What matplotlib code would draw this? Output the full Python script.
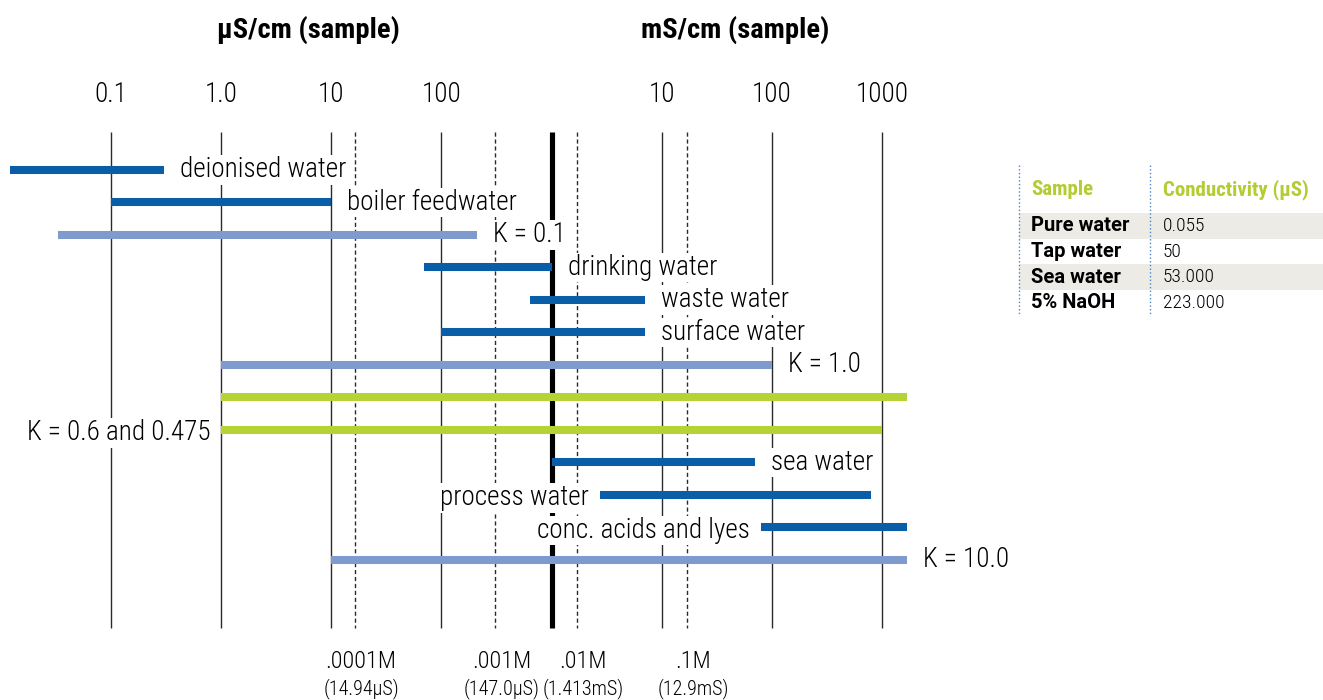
import matplotlib
matplotlib.use('Agg')
import matplotlib.pyplot as plt
from matplotlib.patches import Rectangle

plt.rcParams['font.family'] = ['Roboto Condensed', 'Fira Sans Condensed', 'DejaVu Sans']

# measuring ranges, all in uS/cm
range_labels = ['deionised water', 'boiler feedwater', 'K = 0.1', 'drinking water',
                'waste water', 'surface water', 'K = 1.0', '', 'K = 0.6 and 0.475',
                'sea water', 'process water', 'conc. acids and lyes', 'K = 10.0']
range_lo = [0.012, 0.1, 0.033, 70, 640, 100, 1, 1, 1, 1000, 2750, 8e4, 10]
range_hi = [0.3, 10, 210, 1000, 7000, 7000, 1e5, 1.7e6, 1e6, 7e4, 8e5, 1.7e6, 1.7e6]
range_kind = ['sample', 'sample', 'cell', 'sample', 'sample', 'sample', 'cell',
              'cell2', 'cell2', 'sample', 'sample', 'sample', 'cell']
label_side = ['right', 'right', 'right', 'right', 'right', 'right', 'right',
              'right', 'left', 'right', 'left', 'left', 'right']

tick_values = [0.1, 1, 10, 100, 1e4, 1e5, 1e6]
tick_labels = ['0.1', '1.0', '10', '100', '10', '100', '1000']
unit_split = 1000  # 1 mS/cm

molar_pos = [16.4, 309, 1.7e3, 1.7e4]
molar_labels = ['.0001M', '.001M', '.01M', '.1M']
molar_cond = ['(14.94µS)', '(147.0µS)', '(1.413mS)', '(12.9mS)']

table_samples = ['Pure water', 'Tap water', 'Sea water', '5% NaOH']
table_values = ['0.055', '50', '53.000', '223.000']

colors = {'sample': '#0a5ea8', 'cell': '#7f9bcd', 'cell2': '#b5d334'}
W, H = 1323, 700
LIGHT = 300
FS = 19.5


def fx(px):
    return px / W


def fy(py):
    return 1 - py / H


fig = plt.figure(figsize=(W / 100, H / 100), dpi=100)
ax = fig.add_axes([0, 0, 1, 1])
ax.set_xscale('log')
ax.set_xlim(10 ** -2.008, 10 ** 10.004)
ax.set_ylim(16.31, -5.23)
ax.axis('off')

# vertical reference lines (under the bars)
y_top, y_bot = -1.17, 14.09
ax.vlines(tick_values, y_top, y_bot, color='#2a2a2a', lw=1.0, zorder=2)
ax.vlines([unit_split], y_top, y_bot, color='black', lw=3.7, zorder=2)
ax.vlines(molar_pos, y_top, y_bot, color='#2a2a2a', lw=1.0,
          linestyles=(0, (3, 2)), zorder=2)

for i, (lo, hi) in enumerate(zip(range_lo, range_hi)):
    ax.plot([lo, hi], [i, i], color=colors[range_kind[i]], lw=5.8,
            solid_capstyle='butt', zorder=3)
    if not range_labels[i]:
        continue
    if label_side[i] == 'right':
        ax.annotate(range_labels[i], (hi, i), xytext=(16, 0), textcoords='offset pixels',
                    ha='left', va='center', fontsize=FS, fontweight=LIGHT, zorder=5,
                    bbox=dict(fc='white', ec='none', pad=1))
    else:
        ax.annotate(range_labels[i], (lo, i), xytext=(-11, -3), textcoords='offset pixels',
                    ha='right', va='center', fontsize=FS, fontweight=LIGHT, zorder=5,
                    bbox=dict(fc='white', ec='none', pad=1))

xt = ax.get_xaxis_transform()
for v, lab in zip(tick_values, tick_labels):
    ax.text(v, fy(95), lab, transform=xt, ha='center', va='center', fontsize=FS,
            fontweight=LIGHT)
for v, lab, cond in zip(molar_pos, molar_labels, molar_cond):
    ax.annotate(lab, (v, fy(661)), xycoords=xt, xytext=(6, 0), textcoords='offset pixels',
                ha='center', va='center', fontsize=17.5, fontweight=LIGHT)
    ax.annotate(cond, (v, fy(689)), xycoords=xt, xytext=(6, 0), textcoords='offset pixels',
                ha='center', va='center', fontsize=14.5, fontweight=LIGHT)

fig.text(fx(308), fy(30), 'µS/cm (sample)', ha='center', va='center',
         fontsize=20.5, fontweight='bold')
fig.text(fx(735), fy(30), 'mS/cm (sample)', ha='center', va='center',
         fontsize=20.5, fontweight='bold')

# table
row_h = 25.7
for r in range(len(table_samples)):
    top = 213 + r * row_h
    if r % 2 == 0:
        fig.add_artist(Rectangle((fx(1019), fy(top + row_h)), fx(W - 1019), row_h / H,
                                 transform=fig.transFigure, fc='#ecebe5', ec='none'))
    fig.text(fx(1031), fy(top + row_h / 2), table_samples[r], ha='left', va='center',
             fontsize=14.5, fontweight='bold', family='Roboto')
    fig.text(fx(1163), fy(top + row_h / 2), table_values[r], ha='left', va='center',
             fontsize=14, fontweight=LIGHT)
fig.text(fx(1031), fy(190), 'Sample', ha='left', va='center', fontsize=15,
         fontweight='bold', color='#b2cc32')
fig.text(fx(1163), fy(190), 'Conductivity (µS)', ha='left', va='center', fontsize=15,
         fontweight='bold', color='#b2cc32')
for x in (1019, 1150):
    fig.add_artist(plt.Line2D([fx(x), fx(x)], [fy(165), fy(316)], transform=fig.transFigure,
                              color='#4a86c8', lw=1, ls=':'))

fig.savefig('out.png', dpi=100)
